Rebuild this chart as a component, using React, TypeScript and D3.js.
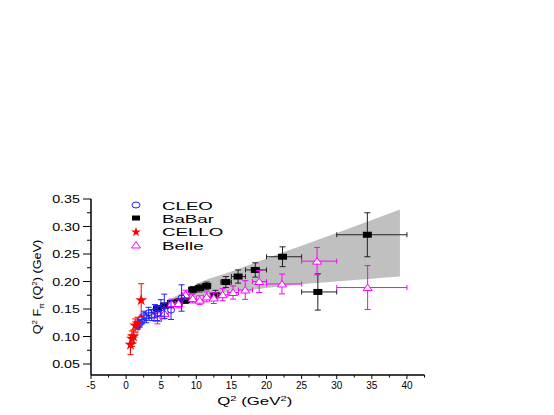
import React from "react";
import * as d3 from "d3";

// ---------- data ----------
const bandQ2 = [0.5, 1, 1.5, 2, 3, 4, 5, 6, 8, 10, 15, 20, 25, 30, 35, 39];
const bandLo = [0.068, 0.085, 0.1, 0.112, 0.128, 0.14, 0.148, 0.155, 0.165, 0.172, 0.181, 0.188, 0.195, 0.2, 0.205, 0.209];
const bandHi = [0.075, 0.095, 0.11, 0.122, 0.138, 0.148, 0.157, 0.165, 0.18, 0.195, 0.218, 0.242, 0.265, 0.288, 0.312, 0.331];

const babarQ2 = [4.47, 5.47, 6.47, 7.47, 8.48, 9.48, 10.48, 11.48, 12.71, 14.21, 15.95, 18.4, 22.28, 27.31, 34.36];
const babarF = [0.151, 0.156, 0.161, 0.163, 0.166, 0.185, 0.188, 0.192, 0.175, 0.199, 0.209, 0.221, 0.245, 0.181, 0.285];
const babarErr = [0.005, 0.005, 0.005, 0.006, 0.006, 0.006, 0.007, 0.007, 0.009, 0.01, 0.012, 0.013, 0.018, 0.033, 0.04];
const babarXLo = [4, 5, 6, 7, 8, 9, 10, 11, 12, 13.5, 15, 17, 20, 25, 30];
const babarXHi = [5, 6, 7, 8, 9, 10, 11, 12, 13.5, 15, 17, 20, 25, 30, 40];

const belleQ2 = [4.46, 5.47, 6.47, 7.47, 8.47, 9.48, 10.48, 11.48, 12.48, 13.75, 15.23, 16.97, 18.96, 22.2, 27.2, 34.4];
const belleF = [0.133, 0.142, 0.16, 0.16, 0.176, 0.169, 0.166, 0.172, 0.17, 0.176, 0.18, 0.1845, 0.2, 0.1955, 0.237, 0.189];
const belleErr = [0.01, 0.01, 0.008, 0.008, 0.008, 0.008, 0.008, 0.009, 0.01, 0.011, 0.012, 0.017, 0.02, 0.018, 0.025, 0.04];
const belleXLo = [4, 5, 6, 7, 8, 9, 10, 11, 12, 13, 14.5, 16, 18, 20, 25, 30];
const belleXHi = [5, 6, 7, 8, 9, 10, 11, 12, 13, 14.5, 16, 18, 20, 25, 30, 40];

const cleoQ2 = [1.64, 1.94, 2.24, 2.55, 2.87, 3.2, 3.65, 4.1, 4.45, 4.95, 5.44, 6.4, 7.9];
const cleoF = [0.121, 0.124, 0.131, 0.138, 0.134, 0.143, 0.139, 0.146, 0.142, 0.152, 0.155, 0.148, 0.17];
const cleoErr = [0.006, 0.007, 0.008, 0.008, 0.009, 0.01, 0.01, 0.012, 0.013, 0.015, 0.022, 0.017, 0.024];

const celloQ2 = [0.62, 0.82, 1.05, 1.3, 1.62, 2.15];
const celloF = [0.085, 0.096, 0.1, 0.12, 0.124, 0.166];
const celloErr = [0.018, 0.014, 0.012, 0.012, 0.011, 0.03];

const xMajorTicks = [-5, 0, 5, 10, 15, 20, 25, 30, 35, 40];
const xMinorTicks = [-2.5, 2.5, 7.5, 12.5, 17.5, 22.5, 27.5, 32.5, 37.5, 42.5];
const yMajorTicks = [0.05, 0.1, 0.15, 0.2, 0.25, 0.3, 0.35];
const yMinorTicks = [0.075, 0.125, 0.175, 0.225, 0.275, 0.325];

const legendNames = ["CLEO", "BaBar", "CELLO", "Belle"];

// ---------- layout ----------
const W = 554;
const H = 415;
const x = d3.scaleLinear().domain([-5, 42.5]).range([91, 424.5]);
const y = d3.scaleLinear().domain([0.03, 0.35]).range([375, 199]);

const BLUE = "#2020ff";
const MAG = "#ff00ff";
const RED = "#ff0000";
const FONT = "Arial, 'Liberation Sans', sans-serif";

function ErrY({ cx, lo, hi, color, cap = 3 }) {
  return (
    <g stroke={color} strokeWidth={1}>
      <line x1={cx} x2={cx} y1={lo} y2={hi} />
      <line x1={cx - cap} x2={cx + cap} y1={lo} y2={lo} />
      <line x1={cx - cap} x2={cx + cap} y1={hi} y2={hi} />
    </g>
  );
}
function ErrX({ cy, lo, hi, color, cap = 2.5 }) {
  return (
    <g stroke={color} strokeWidth={1}>
      <line x1={lo} x2={hi} y1={cy} y2={cy} />
      <line x1={lo} x2={lo} y1={cy - cap} y2={cy + cap} />
      <line x1={hi} x2={hi} y1={cy - cap} y2={cy + cap} />
    </g>
  );
}

const starPath = d3.symbol(d3.symbolStar, 42)();
const tri = (cx, cy) => `M${cx - 4.5},${cy + 3} L${cx + 4.5},${cy + 3} L${cx},${cy - 3.5} Z`;

export default function App() {
  const band = d3
    .area<number>()
    .x((d, i) => x(bandQ2[i]))
    .y0((d, i) => y(bandLo[i]))
    .y1((d, i) => y(bandHi[i]))
    .curve(d3.curveMonotoneX)(bandQ2);

  return (
    <svg width={W} height={H} style={{ position: "absolute", left: 0, top: 0, background: "#fff" }} fontFamily={FONT}>
      <path d={band} fill="#c0c0c0" stroke="none" />

      {/* BaBar */}
      {babarQ2.map((q, i) => (
        <g key={"bb" + i}>
          <ErrX cy={y(babarF[i])} lo={x(babarXLo[i])} hi={x(babarXHi[i])} color="#222" />
          <ErrY cx={x(q)} lo={y(babarF[i] - babarErr[i])} hi={y(babarF[i] + babarErr[i])} color="#222" />
          <rect x={x(q) - 4.5} y={y(babarF[i]) - 3} width={9} height={6} fill="#000" />
        </g>
      ))}

      {/* Belle */}
      {belleQ2.map((q, i) => (
        <g key={"be" + i}>
          <ErrX cy={y(belleF[i])} lo={x(belleXLo[i])} hi={x(belleXHi[i])} color={MAG} />
          <ErrY cx={x(q)} lo={y(belleF[i] - belleErr[i])} hi={y(belleF[i] + belleErr[i])} color={MAG} />
          <path d={tri(x(q), y(belleF[i]))} fill="#fff" stroke={MAG} strokeWidth={1} />
        </g>
      ))}

      {/* CLEO */}
      {cleoQ2.map((q, i) => (
        <g key={"cl" + i}>
          <ErrY cx={x(q)} lo={y(cleoF[i] - cleoErr[i])} hi={y(cleoF[i] + cleoErr[i])} color={BLUE} />
          <ellipse cx={x(q)} cy={y(cleoF[i])} rx={3.5} ry={3} fill="none" stroke={BLUE} strokeWidth={1} />
        </g>
      ))}

      {/* CELLO */}
      {celloQ2.map((q, i) => (
        <g key={"ce" + i}>
          <ErrY cx={x(q)} lo={y(celloF[i] - celloErr[i])} hi={y(celloF[i] + celloErr[i])} color={RED} />
          <path d={starPath} transform={`translate(${x(q)},${y(celloF[i])})`} fill={RED} />
        </g>
      ))}

      {/* axes */}
      <g stroke="#000" strokeWidth={1.5}>
        <line x1={x(-5)} x2={x(-5)} y1={y(0.35)} y2={y(0.03)} />
        <line x1={x(-5)} x2={x(42.5)} y1={y(0.03)} y2={y(0.03)} />
      </g>
      <g stroke="#000" strokeWidth={1}>
        {yMajorTicks.map((t) => (
          <line key={"ym" + t} x1={x(-5) - 8} x2={x(-5)} y1={y(t)} y2={y(t)} />
        ))}
        {yMinorTicks.map((t) => (
          <line key={"yn" + t} x1={x(-5) - 4} x2={x(-5)} y1={y(t)} y2={y(t)} />
        ))}
        {xMajorTicks.map((t) => (
          <line key={"xm" + t} x1={x(t)} x2={x(t)} y1={y(0.03)} y2={y(0.03) + 4} />
        ))}
        {xMinorTicks.map((t) => (
          <line key={"xn" + t} x1={x(t)} x2={x(t)} y1={y(0.03)} y2={y(0.03) + 2.5} />
        ))}
      </g>

      {yMajorTicks.map((t) => (
        <text key={"yl" + t} transform={`translate(${x(-5) - 11},${y(t) + 4}) scale(1.3,1)`} fontSize={11} textAnchor="end">
          {t.toFixed(2)}
        </text>
      ))}
      {xMajorTicks.map((t) => (
        <text key={"xl" + t} x={x(t)} y={y(0.03) + 14} fontSize={10} textAnchor="middle">
          {String(t)}
        </text>
      ))}

      {/* axis titles */}
      <text transform={`translate(${(x(-5) + x(42.5)) / 2 - 3},${405}) scale(1.6,1)`} fontSize={10.5} textAnchor="middle">
        Q<tspan dy={-4} fontSize={7}>2</tspan>
        <tspan dy={4}> (GeV</tspan>
        <tspan dy={-4} fontSize={7}>2</tspan>
        <tspan dy={4}>)</tspan>
      </text>
      <text transform={`translate(41,${(y(0.35) + y(0.03)) / 2}) rotate(-90) scale(1.15,1)`} fontSize={11} textAnchor="middle">
        Q<tspan dy={-4} fontSize={7}>2</tspan>
        <tspan dy={4}> F</tspan>
        <tspan dy={3} fontSize={7}>π</tspan>
        <tspan dy={-3}> (Q</tspan>
        <tspan dy={-4} fontSize={7}>2</tspan>
        <tspan dy={4}>) (GeV)</tspan>
      </text>

      {/* legend */}
      <g>
        <ellipse cx={136} cy={205} rx={4} ry={3} fill="none" stroke={BLUE} strokeWidth={1} />
        <rect x={132} y={215.5} width={8} height={5} fill="#000" />
        <path d={d3.symbol(d3.symbolStar, 30)()} transform="translate(136,232)" fill={RED} />
        <path d={tri(136, 245)} fill="none" stroke={MAG} strokeWidth={1} />
        {legendNames.map((n, i) => (
          <text key={n} transform={`translate(162,${205 + i * 13.4 + 4.5}) scale(1.7,1)`} fontSize={11}>
            {n}
          </text>
        ))}
      </g>
    </svg>
  );
}
